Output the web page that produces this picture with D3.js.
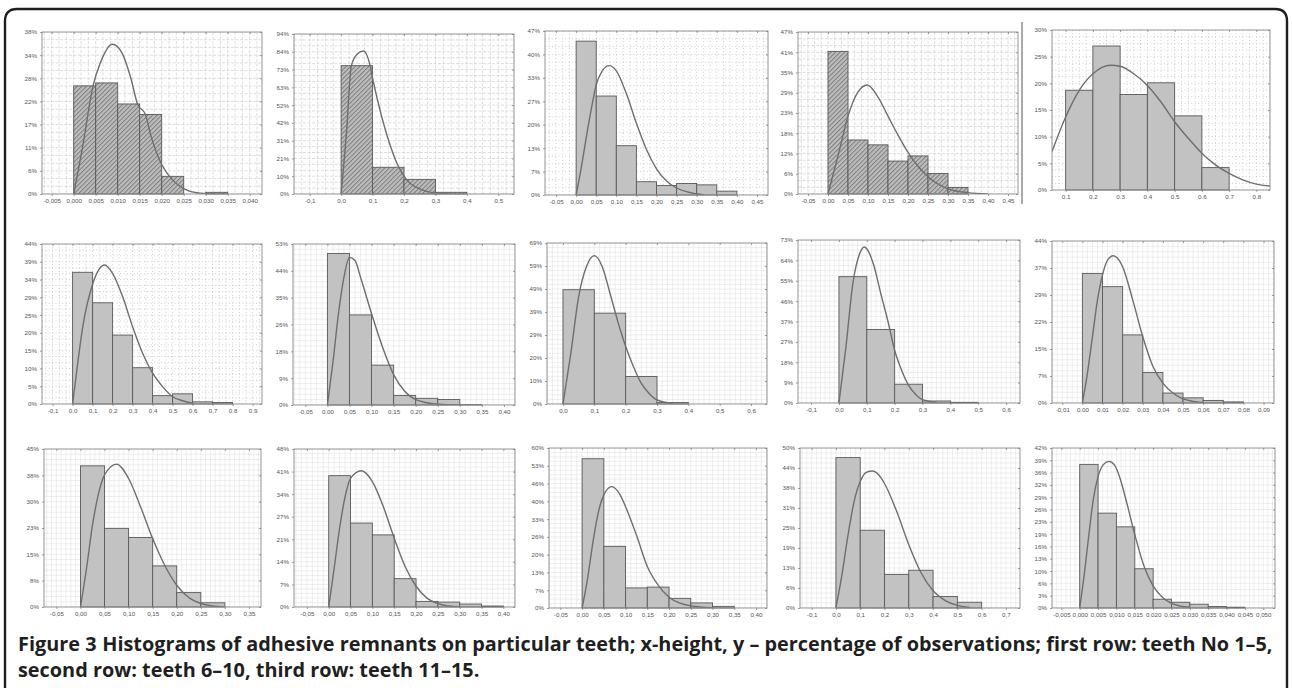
<!DOCTYPE html>
<html>
<head>
<meta charset="utf-8">
<script src="https://cdn.jsdelivr.net/npm/d3@7"></script>
<style>
  body { margin: 0; background: #fff; }
  svg { display: block; }
</style>
</head>
<body>
<script>
// ---- data, one entry per panel (teeth 1..15), bars in % of observations ----
const xTickLabels = [
  ["-0,005", "0,000", "0,005", "0,010", "0,015", "0,020", "0,025", "0,030", "0,035", "0,040"],
  ["-0,1", "0,0", "0,1", "0,2", "0,3", "0,4", "0,5"],
  ["-0,05", "0,00", "0,05", "0,10", "0,15", "0,20", "0,25", "0,30", "0,35", "0,40", "0,45"],
  ["-0,05", "0,00", "0,05", "0,10", "0,15", "0,20", "0,25", "0,30", "0,35", "0,40", "0,45"],
  ["0.1", "0.2", "0.3", "0.4", "0.5", "0.6", "0.7", "0.8"],
  ["-0,1", "0,0", "0,1", "0,2", "0,3", "0,4", "0,5", "0,6", "0,7", "0,8", "0,9"],
  ["-0,05", "0,00", "0,05", "0,10", "0,15", "0,20", "0,25", "0,30", "0,35", "0,40"],
  ["0,0", "0,1", "0,2", "0,3", "0,4", "0,5", "0,6"],
  ["-0,1", "0,0", "0,1", "0,2", "0,3", "0,4", "0,5", "0,6"],
  ["-0,01", "0,00", "0,01", "0,02", "0,03", "0,04", "0,05", "0,06", "0,07", "0,08", "0,09"],
  ["-0,05", "0,00", "0,05", "0,10", "0,15", "0,20", "0,25", "0,30", "0,35"],
  ["-0,05", "0,00", "0,05", "0,10", "0,15", "0,20", "0,25", "0,30", "0,35", "0,40"],
  ["-0,05", "0,00", "0,05", "0,10", "0,15", "0,20", "0,25", "0,30", "0,35", "0,40"],
  ["-0,1", "0,0", "0,1", "0,2", "0,3", "0,4", "0,5", "0,6", "0,7"],
  ["-0,005", "0,000", "0,005", "0,010", "0,015", "0,020", "0,025", "0,030", "0,035", "0,040", "0,045", "0,050"]
];

const yTickLabels = [
  ["0%", "6%", "11%", "17%", "22%", "28%", "34%", "38%"],
  ["0%", "10%", "21%", "31%", "42%", "52%", "63%", "73%", "84%", "94%"],
  ["0%", "7%", "13%", "20%", "27%", "33%", "40%", "47%"],
  ["0%", "6%", "12%", "18%", "23%", "29%", "35%", "41%", "47%"],
  ["0%", "5%", "10%", "15%", "20%", "25%", "30%"],
  ["0%", "5%", "10%", "15%", "20%", "25%", "29%", "34%", "39%", "44%"],
  ["0%", "9%", "18%", "26%", "35%", "44%", "53%"],
  ["0%", "10%", "20%", "29%", "39%", "49%", "59%", "69%"],
  ["0%", "9%", "18%", "27%", "37%", "46%", "55%", "64%", "73%"],
  ["0%", "7%", "15%", "22%", "29%", "37%", "44%"],
  ["0%", "8%", "15%", "23%", "30%", "38%", "45%"],
  ["0%", "7%", "14%", "21%", "27%", "34%", "41%", "48%"],
  ["0%", "7%", "13%", "20%", "26%", "33%", "40%", "46%", "53%", "60%"],
  ["0%", "6%", "13%", "19%", "25%", "31%", "38%", "44%", "50%"],
  ["0%", "3%", "6%", "10%", "13%", "16%", "19%", "23%", "26%", "29%", "32%", "36%", "39%", "42%"]
];

// value at the top of each y axis
const yMax = [38.5, 94, 46.9, 46.8, 30, 44.1, 52.9, 68.6, 72.9, 44, 45, 48, 59.7, 50, 42];

// visible x range of each panel
const xRange = [
  [-0.0072, 0.0428], [-0.15, 0.55], [-0.0775, 0.4775], [-0.075, 0.475], [0.05, 0.85],
  [-0.153, 0.947], [-0.078, 0.425], [-0.051, 0.651], [-0.147, 0.65], [-0.0151, 0.0952],
  [-0.0757, 0.375], [-0.0795, 0.4266], [-0.0762, 0.4254], [-0.148, 0.758], [-0.00755, 0.0532]
];

const binStart = [0, 0, 0, 0, 0.1, 0, 0, 0, 0, 0, 0, 0, 0, 0, 0];
const binWidth = [0.005, 0.1, 0.05, 0.05, 0.1, 0.1, 0.05, 0.1, 0.1, 0.01, 0.05, 0.05, 0.05, 0.1, 0.005];

const barPct = [
  [25.7, 26.4, 21.4, 18.9, 4.2, 0, 0.4],
  [75.4, 15.7, 8.6, 1.0],
  [44.0, 28.3, 14.1, 3.8, 2.7, 3.3, 2.9, 1.1],
  [41.2, 15.6, 14.2, 9.5, 11.0, 5.9, 1.9],
  [18.7, 27.0, 17.9, 20.1, 13.9, 4.2],
  [36.3, 27.9, 19.0, 10.0, 2.3, 2.8, 0.6, 0.4],
  [49.8, 29.6, 13.1, 3.1, 2.2, 1.8, 0.1],
  [48.7, 38.7, 11.7, 0.6],
  [56.5, 32.9, 8.4, 0.9, 0.3],
  [35.2, 31.6, 18.5, 8.3, 2.7, 1.4, 0.7, 0.3],
  [40.2, 22.4, 19.8, 11.7, 4.1, 1.2],
  [39.9, 25.5, 21.9, 8.6, 1.7, 1.5, 0.9, 0.3],
  [55.7, 23.0, 7.5, 7.8, 3.6, 1.9, 0.6],
  [47.0, 24.3, 10.5, 11.8, 3.6, 1.8],
  [37.7, 24.9, 21.3, 10.3, 2.3, 1.5, 1.0, 0.4, 0.2]
];

// fitted curve
const curveX = [
  [0, 0.002, 0.0044, 0.006, 0.0088, 0.011, 0.013, 0.0145, 0.0163, 0.0175, 0.02, 0.0225, 0.025, 0.028, 0.032],
  [0, 0.018, 0.032, 0.05, 0.071, 0.09, 0.1, 0.12, 0.15, 0.18, 0.21, 0.25, 0.3, 0.35],
  [0, 0.013, 0.026, 0.04, 0.05, 0.065, 0.082, 0.1, 0.125, 0.15, 0.175, 0.2, 0.225, 0.25, 0.28, 0.32],
  [0, 0.025, 0.05, 0.075, 0.098, 0.125, 0.15, 0.175, 0.2, 0.225, 0.25, 0.3, 0.35, 0.4],
  [0.05, 0.1, 0.15, 0.2, 0.265, 0.3, 0.35, 0.4, 0.45, 0.5, 0.55, 0.6, 0.65, 0.7, 0.75, 0.8, 0.85],
  [0, 0.025, 0.05, 0.1, 0.16, 0.2, 0.25, 0.3, 0.35, 0.4, 0.45, 0.5, 0.55, 0.6],
  [0, 0.0125, 0.025, 0.0375, 0.05, 0.0625, 0.075, 0.1, 0.125, 0.15, 0.175, 0.2, 0.25, 0.3],
  [0, 0.025, 0.05, 0.075, 0.1, 0.125, 0.15, 0.175, 0.2, 0.225, 0.25, 0.275, 0.3, 0.35],
  [0, 0.025, 0.05, 0.075, 0.091, 0.1, 0.125, 0.15, 0.175, 0.2, 0.225, 0.25, 0.275, 0.3, 0.35],
  [0, 0.0025, 0.005, 0.0075, 0.01, 0.0125, 0.0153, 0.0175, 0.02, 0.025, 0.03, 0.035, 0.04, 0.045, 0.05, 0.055, 0.06],
  [0, 0.0125, 0.025, 0.0375, 0.05, 0.075, 0.1, 0.125, 0.15, 0.175, 0.2, 0.225, 0.25, 0.275, 0.3],
  [0, 0.0125, 0.025, 0.0375, 0.05, 0.075, 0.1, 0.125, 0.15, 0.175, 0.2, 0.225, 0.25, 0.275, 0.3],
  [0, 0.0125, 0.025, 0.0375, 0.05, 0.068, 0.0875, 0.1, 0.125, 0.15, 0.175, 0.2, 0.225, 0.25, 0.3],
  [0, 0.025, 0.05, 0.075, 0.1, 0.125, 0.15, 0.175, 0.2, 0.25, 0.3, 0.35, 0.4, 0.45, 0.5, 0.55],
  [0, 0.00125, 0.0025, 0.00375, 0.005, 0.0065, 0.008, 0.0095, 0.011, 0.0125, 0.015, 0.0175, 0.02, 0.0225, 0.025, 0.0275, 0.03]
];
const curveY = [
  [0, 11, 25.7, 31, 35.6, 33.5, 27.5, 21.4, 18.9, 14, 7, 3.3, 1.3, 0.3, 0],
  [0, 38.7, 75, 82, 84, 77, 68, 52, 32, 17, 8, 3, 0.5, 0],
  [0, 8, 17, 26, 31.5, 35.5, 37, 35.5, 29, 20.5, 13, 7.5, 4, 2, 0.8, 0],
  [0, 11, 22.5, 29.5, 31.5, 28, 22.5, 17, 12, 8, 5, 1.5, 0.4, 0],
  [7.2, 13.7, 18.7, 21.8, 23.4, 23.2, 21.8, 19.6, 16.5, 12.8, 9.7, 6.9, 4.7, 3.1, 1.9, 1.1, 0.75],
  [0, 11, 21, 33, 38.3, 36, 29.6, 21.3, 14, 8.5, 4.8, 2, 0.9, 0.2],
  [0, 14, 30, 42, 48.5, 47.5, 42, 30, 19, 10, 4.5, 1.8, 0.3, 0],
  [0, 21.6, 45.8, 58.6, 63.2, 58.6, 47.2, 35.1, 24.5, 15.9, 8.8, 4.5, 1.7, 0.3],
  [0, 25, 53.5, 67, 69.8, 69, 61.6, 49, 37, 23.6, 14.6, 7.9, 3.9, 1.5, 0.3],
  [0, 8.1, 18, 28, 34.8, 38.8, 40, 39.3, 37, 28, 18, 10, 5.4, 2.7, 1.1, 0.45, 0.1],
  [0, 10.9, 23.3, 32.3, 37.6, 40.7, 36.6, 28.5, 19.5, 11.9, 6.2, 2.7, 1, 0.3, 0],
  [0, 11.8, 24, 33.5, 39.1, 41.4, 38.1, 30.5, 20.9, 12.3, 6.3, 2.7, 1, 0.3, 0],
  [0, 10.9, 24.7, 35.9, 42.2, 45.3, 42.2, 37.8, 27.2, 15.5, 8.5, 4, 1.8, 0.8, 0.1],
  [0, 10.5, 22.9, 33.3, 39.5, 42.4, 42.8, 41.7, 38.9, 30.2, 19.8, 11.1, 5.4, 2.3, 0.8, 0.2],
  [0, 8.9, 19.3, 28.8, 34.5, 37.7, 38.5, 37.5, 34, 28.8, 19.3, 11, 5.8, 2.8, 1.2, 0.5, 0.2]
];

const captionBold = "Figure 3";
const captionLine1 = "Histograms of adhesive remnants on particular teeth; x-height, y \u2013 percentage of observations; first row: teeth No 1\u20135,";
const captionLine2 = "second row: teeth 6\u201310, third row: teeth 11\u201315.";

// ---- layout (plot boxes on the page) ----
const frames = [
  [42, 32, 262, 194], [294, 34, 514, 194], [545, 31, 768, 195], [798, 32, 1018, 194], [1052, 30, 1270, 190],
  [42, 244, 262, 404], [293, 244, 515, 405], [547, 243, 767, 404], [798, 240, 1020, 403], [1052, 241, 1274, 403],
  [44, 449, 261, 607], [294, 449, 515, 607], [549, 448, 767, 608], [800, 448, 1020, 608], [1052, 448, 1275, 608]
];
const gridKind = ["dash", "dash", "dot", "dash", "dot", "dot",
  "fine", "fine", "fine", "fine", "fine", "fine", "fine", "fine", "fine"];
const hatched = [true, true, false, true, false, false, false, false, false, false, false, false, false, false, false];

const svg = d3.select("body").append("svg").attr("width", 1292).attr("height", 688);
const defs = svg.append("defs");

const pat = defs.append("pattern")
  .attr("id", "hatch")
  .attr("patternUnits", "userSpaceOnUse")
  .attr("width", 3.2)
  .attr("height", 3.2)
  .attr("patternTransform", "rotate(45)");
pat.append("rect").attr("width", 3.2).attr("height", 3.2).attr("fill", "#bdbdbd");
pat.append("line").attr("x1", 0.5).attr("y1", 0).attr("x2", 0.5).attr("y2", 3.2)
  .attr("stroke", "#7d7d7d").attr("stroke-width", 1);

// outer box
svg.append("path")
  .attr("d", "M5,700 L5,21 Q5,9 17,9 L1275,9 Q1287,9 1287,21 L1287,700")
  .attr("fill", "none")
  .attr("stroke", "#1e1e1e")
  .attr("stroke-width", 2.4);

// separator between panel 4 and 5
svg.append("line")
  .attr("x1", 1022).attr("x2", 1022).attr("y1", 22).attr("y2", 204)
  .attr("stroke", "#555").attr("stroke-width", 1);

const parseLabel = s => +s.replace(",", ".");

frames.forEach((f, p) => {
  const [x0, y0, x1, y1] = f;
  const x = d3.scaleLinear().domain(xRange[p]).range([x0, x1]);
  const y = d3.scaleLinear().domain([0, yMax[p]]).range([y1, y0]);
  const g = svg.append("g");

  defs.append("clipPath").attr("id", "clip" + p)
    .append("rect").attr("x", x0).attr("y", y0).attr("width", x1 - x0).attr("height", y1 - y0);

  const xVals = xTickLabels[p].map(parseLabel);
  const nY = yTickLabels[p].length;
  const yVals = d3.range(nY).map(i => i * yMax[p] / (nY - 1));

  // grid
  const grid = g.append("g").attr("clip-path", "url(#clip" + p + ")");
  const xStep = xVals[1] - xVals[0];
  const xPx = x(xVals[1]) - x(xVals[0]);
  const xSub = Math.max(1, Math.round(xPx / (gridKind[p] === "fine" ? 5 : 7)));
  const xLines = [];
  for (let v = xVals[0] - xStep; v <= xRange[p][1] + 1e-9; v += xStep / xSub) xLines.push(v);
  const yStep = yVals[1];
  const yPx = y(0) - y(yStep);
  const ySub = Math.max(1, Math.round(yPx / (gridKind[p] === "fine" ? 5 : 7)));
  const yLines = [];
  for (let v = 0; v <= yMax[p] + 1e-9; v += yStep / ySub) yLines.push(v);

  let gStroke = "#e2e2e2", gDash = null, gWidth = 0.6;
  if (gridKind[p] === "dash") { gStroke = "#cfcfcf"; gDash = "3,1.5"; gWidth = 0.7; }
  if (gridKind[p] === "dot") { gStroke = "#b5b5b5"; gDash = "0.8,2.6"; gWidth = 0.8; }

  grid.selectAll(".gx").data(xLines).join("line")
    .attr("x1", d => x(d)).attr("x2", d => x(d)).attr("y1", y0).attr("y2", y1)
    .attr("stroke", gStroke).attr("stroke-width", gWidth).attr("stroke-dasharray", gDash);
  grid.selectAll(".gy").data(yLines).join("line")
    .attr("x1", x0).attr("x2", x1).attr("y1", d => y(d)).attr("y2", d => y(d))
    .attr("stroke", gStroke).attr("stroke-width", gWidth).attr("stroke-dasharray", gDash);

  // bars
  g.append("g").selectAll("rect")
    .data(barPct[p].map((v, i) => ({ v: v, a: binStart[p] + i * binWidth[p], b: binStart[p] + (i + 1) * binWidth[p] }))
      .filter(d => d.v > 0))
    .join("rect")
    .attr("x", d => x(d.a))
    .attr("y", d => y(d.v))
    .attr("width", d => x(d.b) - x(d.a))
    .attr("height", d => y(0) - y(d.v))
    .attr("fill", hatched[p] ? "url(#hatch)" : "#c2c2c2")
    .attr("stroke", "#595959")
    .attr("stroke-width", 0.9);

  // fitted curve
  const line = d3.line()
    .x(d => x(d[0]))
    .y(d => y(d[1]))
    .curve(d3.curveMonotoneX);
  g.append("path")
    .attr("clip-path", "url(#clip" + p + ")")
    .attr("d", line(curveX[p].map((v, i) => [v, curveY[p][i]])))
    .attr("fill", "none")
    .attr("stroke", "#6e6e6e")
    .attr("stroke-width", 1.4);

  // frame
  g.append("rect")
    .attr("x", x0).attr("y", y0).attr("width", x1 - x0).attr("height", y1 - y0)
    .attr("fill", "none").attr("stroke", "#8a8a8a").attr("stroke-width", 0.9);

  // axes
  const xa = g.append("g").attr("transform", "translate(0," + y1 + ")")
    .call(d3.axisBottom(x).tickValues(xVals).tickFormat((d, i) => xTickLabels[p][i]).tickSize(2).tickPadding(3));
  const ya = g.append("g").attr("transform", "translate(" + x0 + ",0)")
    .call(d3.axisLeft(y).tickValues(yVals).tickFormat((d, i) => yTickLabels[p][i]).tickSize(2).tickPadding(3));
  const ta = g.append("g").attr("transform", "translate(0," + y0 + ")")
    .call(d3.axisBottom(x).tickValues(xVals).tickFormat("").tickSize(2));
  const ra = g.append("g").attr("transform", "translate(" + x1 + ",0)")
    .call(d3.axisLeft(y).tickValues(yVals).tickFormat("").tickSize(2));
  [xa, ya, ta, ra].forEach(a => {
    a.select(".domain").remove();
    a.selectAll("line").attr("stroke", "#777").attr("stroke-width", 0.7);
    a.selectAll("text")
      .attr("fill", "#555")
      .style("font-family", "'Liberation Sans', Arial, sans-serif")
      .style("font-size", "6.2px");
  });
});

// caption: "Figure 3" and the rest of line 1 as two texts, scaled to the box width
const capFont = "'Open Sans', 'Noto Sans', sans-serif";
const capA = svg.append("text")
  .attr("x", 18).attr("y", 651)
  .attr("fill", "#1f1f1f")
  .style("font-family", capFont).style("font-weight", "bold").style("font-size", "16px")
  .text(captionBold);
const capB = svg.append("text")
  .attr("y", 651)
  .attr("fill", "#1f1f1f")
  .style("font-family", capFont).style("font-weight", "bold").style("font-size", "16px")
  .text(captionLine1);
const capC = svg.append("text")
  .attr("x", 18).attr("y", 677)
  .attr("fill", "#1f1f1f")
  .style("font-family", capFont).style("font-weight", "bold").style("font-size", "16px")
  .text(captionLine2);
const wA = capA.node().getComputedTextLength();
const wB = capB.node().getComputedTextLength();
const gap = 4.6;
const k = 1255 / (wA + gap + wB);
[capA, capB, capC].forEach(t => t.style("font-size", (16 * k) + "px"));
capB.attr("x", 18 + (wA + gap) * k);
</script>
</body>
</html>
